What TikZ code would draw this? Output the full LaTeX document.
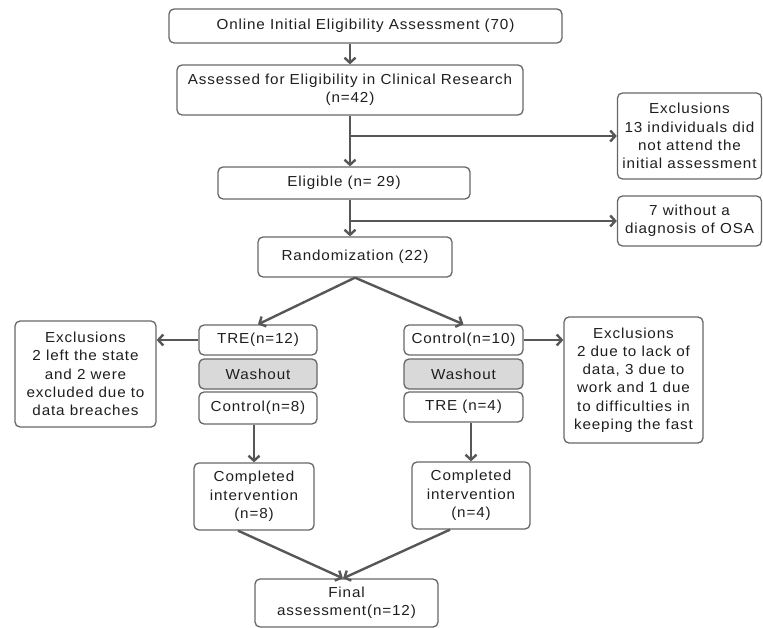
\documentclass[tikz,border=0pt]{standalone}
\usepackage{fontspec}
\setmainfont{Liberation Sans}[FakeStretch=1.05,LetterSpace=6]
\usetikzlibrary{arrows.meta,calc}
\definecolor{bordc}{HTML}{676767}
\definecolor{linec}{HTML}{575757}
\definecolor{txtc}{HTML}{1E1E1E}
\definecolor{washc}{HTML}{D9D9D9}
\newcommand{\boxfont}{\fontsize{14.5}{18.3}\selectfont}
\tikzset{
  box/.style={draw=bordc, line width=1.3pt, rounded corners=5pt, align=center,
    inner sep=0pt, text=txtc, font=\boxfont},
  washbox/.style={box, fill=washc},
  arr/.style={draw=linec, line width=2.4pt, -{Straight Barb[length=5pt,width=11pt]}},
  plainln/.style={draw=linec, line width=2.4pt}
}
\begin{document}
\begin{tikzpicture}[x=1pt,y=-1pt]
\useasboundingbox (0,0) rectangle (763,628);
% main column
\node[box, minimum width=393pt, minimum height=34pt] (n1) at (365.5,26) {Online Initial Eligibility Assessment (70)};
\node[box, minimum width=346pt, minimum height=50pt] (n2) at (350,90) {Assessed for Eligibility in Clinical Research\\(n=42)};
\node[box, minimum width=144pt, minimum height=86pt] (ex1) at (689.5,136) {Exclusions\\13 individuals did\\not attend the\\initial assessment};
\node[box, minimum width=252pt, minimum height=32pt] (n3) at (344,183) {Eligible (n= 29)};
\node[box, minimum width=144pt, minimum height=50pt] (ex2) at (689.5,221) {7 without a\\diagnosis of OSA};
\node[box, minimum width=194pt, minimum height=40pt] (n4) at (355,257) {Randomization (22)};
% left arm
\node[box, minimum width=118pt, minimum height=30pt] (tre1) at (258,340) {TRE(n=12)};
\node[washbox, minimum width=118pt, minimum height=30pt] (w1) at (258,374) {Washout};
\node[box, minimum width=118pt, minimum height=32pt] (ctl2) at (258,408) {Control(n=8)};
\node[box, minimum width=141pt, minimum height=106pt] (exL) at (85.5,374) {Exclusions\\2 left the state\\and 2 were\\excluded due to\\data breaches};
% right arm
\node[box, minimum width=119pt, minimum height=30pt] (ctl1) at (463.5,340) {Control(n=10)};
\node[washbox, minimum width=119pt, minimum height=30pt] (w2) at (463.5,374) {Washout};
\node[box, minimum width=119pt, minimum height=30pt] (tre2) at (463.5,407) {TRE (n=4)};
\node[box, minimum width=139pt, minimum height=126pt] (exR) at (633.5,380) {Exclusions\\2 due to lack of\\data, 3 due to\\work and 1 due\\to difficulties in\\keeping the fast};
% completed and final
\node[box, minimum width=120pt, minimum height=67pt] (compL) at (254,496.5) {Completed\\intervention\\(n=8)};
\node[box, minimum width=118pt, minimum height=67pt] (compR) at (471,495.5) {Completed\\intervention\\(n=4)};
\node[box, minimum width=183pt, minimum height=48pt] (fin) at (346.5,603) {Final\\assessment(n=12)};
% connectors
\draw[arr] (n1.south -| n2.north) -- (n2.north);
\draw[arr] (n2.south) -- (n2.south |- n3.north);
\draw[arr] (n2.south |- ex1.west) -- (ex1.west);
\draw[arr] (n2.south |- n3.south) -- (n2.south |- n4.north);
\draw[arr] (n2.south |- ex2.west) -- (ex2.west);
\draw[arr] (n4.south) -- (tre1.north);
\draw[arr] (n4.south) -- (ctl1.north);
\draw[arr] (tre1.west) -- (tre1.west -| exL.east);
\draw[arr] (ctl1.east) -- (ctl1.east -| exR.west);
\draw[arr] (compL.north |- ctl2.south) -- (compL.north);
\draw[arr] (compR.north |- tre2.south) -- (compR.north);
\draw[arr] ([xshift=-16pt]compL.south) -- ([xshift=-3.5pt]fin.north);
\draw[arr] ([xshift=-21pt]compR.south) -- ([xshift=-3.5pt]fin.north);
\end{tikzpicture}
\end{document}
